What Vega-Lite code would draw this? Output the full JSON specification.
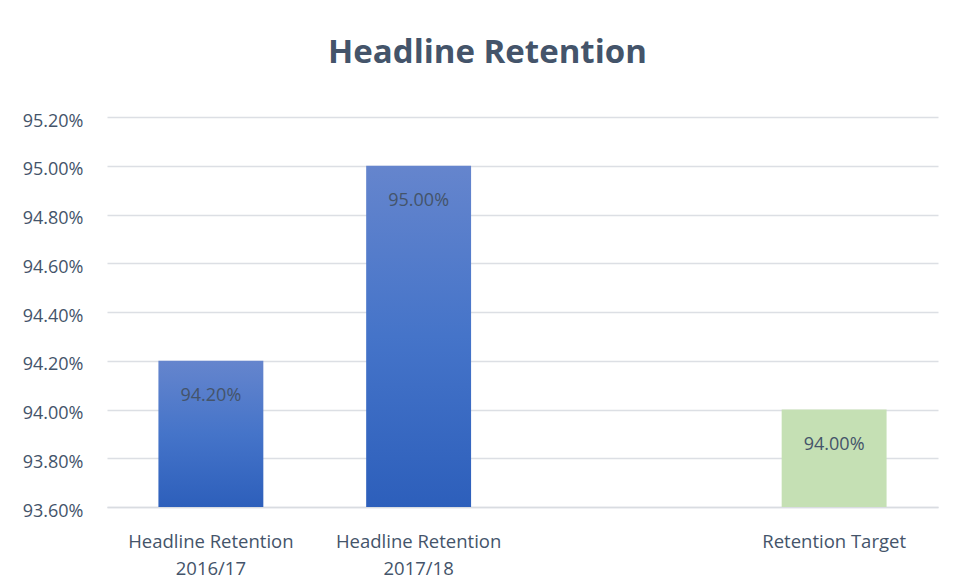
{
  "$schema": "https://vega.github.io/schema/vega-lite/v6.json",
  "autosize": {"type": "none"},
  "width": 831,
  "height": 390,
  "padding": {"left": 107, "top": 117, "right": 18, "bottom": 74},
  "background": "#ffffff",
  "title": {
    "text": "Headline Retention",
    "font": "Open Sans",
    "fontSize": 33,
    "fontWeight": "bold",
    "color": "#44546a",
    "anchor": "middle",
    "frame": "group",
    "dx": -35,
    "offset": 42
  },
  "config": {
    "view": {"stroke": null},
    "axis": {"labelFont": "Open Sans", "labelColor": "#44546a", "labelFontSize": 18}
  },
  "data": {
    "values": [
      {"cat": "Headline Retention|2016/17", "value": 0.942, "kind": "actual"},
      {"cat": "Headline Retention|2017/18", "value": 0.95, "kind": "actual"},
      {"cat": "Retention Target", "value": 0.94, "kind": "target"}
    ]
  },
  "encoding": {
    "x": {
      "field": "cat",
      "type": "nominal",
      "sort": null,
      "scale": {
        "domain": ["Headline Retention|2016/17", "Headline Retention|2017/18", " ", "Retention Target"],
        "paddingInner": 0.495,
        "paddingOuter": 0.2475
      },
      "axis": {
        "title": null,
        "labelAngle": 0,
        "labelExpr": "split(datum.label, '|')",
        "labelPadding": 25,
        "labelLineHeight": 27,
        "labelFontSize": 18.5,
        "ticks": false,
        "domain": true,
        "domainColor": "#d9dce1",
        "domainWidth": 1.5,
        "grid": false
      }
    },
    "y": {
      "field": "value",
      "type": "quantitative",
      "scale": {"domain": [0.936, 0.952], "zero": false, "nice": false},
      "axis": {
        "title": null,
        "format": ".2%",
        "values": [0.936, 0.938, 0.94, 0.942, 0.944, 0.946, 0.948, 0.95, 0.952],
        "grid": true,
        "gridColor": "#dcdfe4",
        "gridWidth": 1.5,
        "ticks": false,
        "domain": false,
        "labelPadding": 24,
        "labelOffset": 4
      }
    }
  },
  "layer": [
    {
      "transform": [{"filter": "datum.kind == 'actual'"}],
      "mark": {
        "type": "bar",
        "fill": {
          "gradient": "linear",
          "x1": 0, "y1": 0, "x2": 0, "y2": 1,
          "stops": [
            {"offset": 0, "color": "#6585cd"},
            {"offset": 0.5, "color": "#4574c9"},
            {"offset": 1, "color": "#2d5fbb"}
          ]
        }
      },
      "encoding": {"y2": {"datum": 0.936}}
    },
    {
      "transform": [{"filter": "datum.kind == 'target'"}],
      "mark": {"type": "bar", "fill": "#c5e0b4"},
      "encoding": {"y2": {"datum": 0.936}}
    },
    {
      "mark": {"type": "text", "baseline": "middle", "dy": 35, "font": "Open Sans", "fontSize": 18, "color": "#44546a"},
      "encoding": {"text": {"field": "value", "type": "quantitative", "format": ".2%"}}
    }
  ]
}
